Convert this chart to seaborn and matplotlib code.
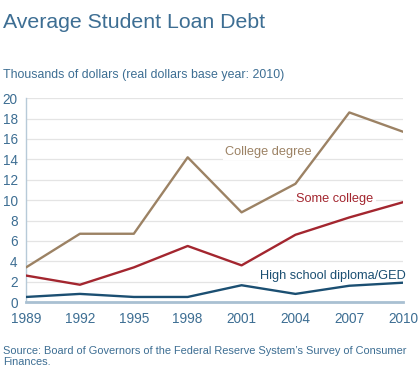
import matplotlib
matplotlib.use("Agg")
import matplotlib.pyplot as plt
import seaborn as sns
import pandas as pd

years = [1989, 1992, 1995, 1998, 2001, 2004, 2007, 2010]
college_degree = [3.4, 6.7, 6.7, 14.2, 8.8, 11.6, 18.6, 16.7]
some_college = [2.6, 1.7, 3.4, 5.5, 3.6, 6.6, 8.3, 9.8]
high_school = [0.5, 0.8, 0.5, 0.5, 1.65, 0.8, 1.6, 1.9]
series_names = ["College degree", "Some college", "High school diploma/GED"]
y_ticks = [0, 2, 4, 6, 8, 10, 12, 14, 16, 18, 20]

sns.set_theme(style="white")
plt.rcParams['font.family'] = ['Liberation Sans', 'DejaVu Sans']

colors = {"College degree": "#9c8264", "Some college": "#a3262f",
          "High school diploma/GED": "#1b4f72"}
text_col = "#3d6e93"

df = pd.DataFrame({
    "year": years * 3,
    "value": college_degree + some_college + high_school,
    "series": [series_names[0]] * 8 + [series_names[1]] * 8 + [series_names[2]] * 8,
})

fig = plt.figure(figsize=(4.2, 3.79), dpi=100)
ax = fig.add_axes([0.062, 0.203, 0.898, 0.538])
sns.lineplot(data=df, x="year", y="value", hue="series", palette=colors,
             linewidth=1.7, legend=False, ax=ax, zorder=3)

ax.set_xlim(1989, 2010)
ax.set_ylim(0, 20)
ax.set_xticks(years)
ax.set_yticks(y_ticks)
ax.set_xlabel("")
ax.set_ylabel("")
ax.grid(axis="y", color="#e4e4e4", linewidth=0.9, zorder=0)
ax.set_axisbelow(True)
for s in ["top", "right"]:
    ax.spines[s].set_visible(False)
ax.spines["left"].set_color("#b7cad8")
ax.spines["left"].set_linewidth(1.0)
ax.spines["bottom"].set_color("#a9c0d2")
ax.spines["bottom"].set_linewidth(2.0)
ax.tick_params(axis="x", colors="#b7cad8", labelcolor=text_col, labelsize=9.8,
               length=4, width=0.8, direction="out", pad=3)
ax.tick_params(axis="y", colors="#b7cad8", labelcolor=text_col, labelsize=9.8,
               length=0, pad=6)

bbox = dict(facecolor="white", edgecolor="none", pad=1.5)
ax.text(2002.5, 14.7, "College degree", color=colors["College degree"],
        fontsize=9.2, ha="center", va="center", bbox=bbox, zorder=2)
ax.text(2006.2, 10.1, "Some college", color=colors["Some college"],
        fontsize=9.2, ha="center", va="center", bbox=bbox, zorder=2)
ax.text(2006.1, 2.55, "High school diploma/GED", color=colors["High school diploma/GED"],
        fontsize=9.2, ha="center", va="center", bbox=bbox, zorder=2)

fig.text(3 / 420, 1 - 23 / 379, "Average Student Loan Debt", color=text_col,
         fontsize=15.3, ha="left", va="center")
fig.text(3 / 420, 1 - 75 / 379, "Thousands of dollars (real dollars base year: 2010)",
         color=text_col, fontsize=8.9, ha="left", va="center")
fig.text(3 / 420, 1 - 346 / 379,
         "Source: Board of Governors of the Federal Reserve System’s Survey of Consumer\nFinances.",
         color=text_col, fontsize=7.9, ha="left", va="top", linespacing=1.08)

fig.savefig("out.png", dpi=100, facecolor="white")
